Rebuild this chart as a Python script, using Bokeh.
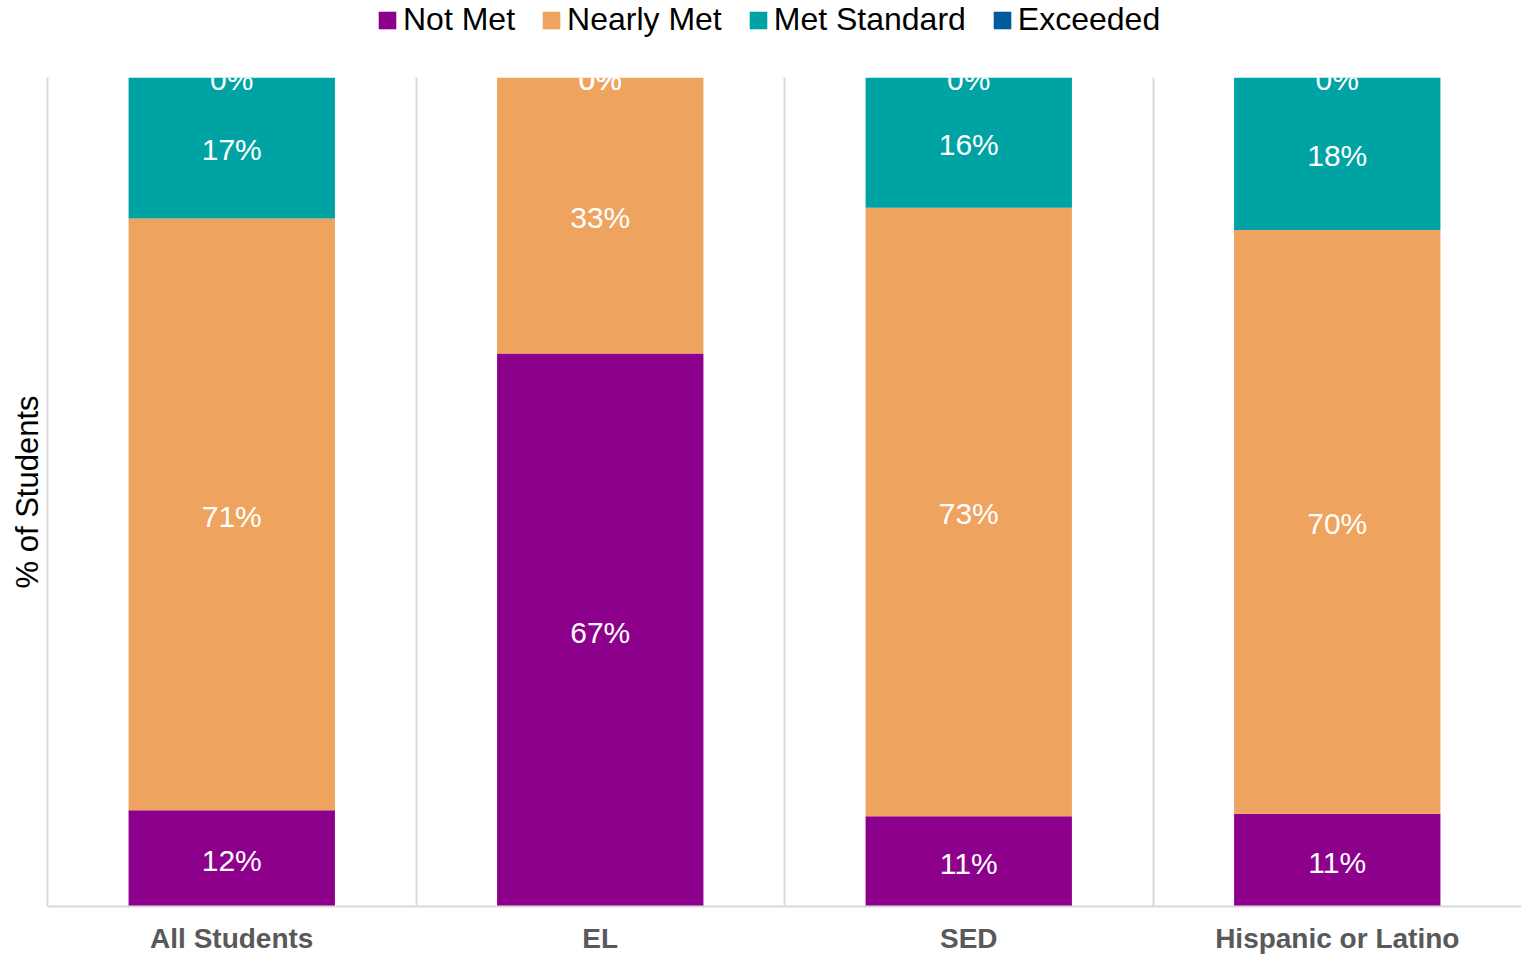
from bokeh.plotting import figure
from bokeh.layouts import column
from bokeh.models import FixedTicker, Legend, LegendItem, ColumnDataSource, Range1d
from bokeh.core.properties import value
from bokeh.embed import file_html
from bokeh.resources import INLINE

categories = ["All Students", "EL", "SED", "Hispanic or Latino"]
series_names = ["Not Met", "Nearly Met", "Met Standard", "Exceeded"]
not_met = [11.6, 66.7, 10.9, 11.2]
nearly_met = [71.4, 33.3, 73.4, 70.4]
met_standard = [17.0, 0.0, 15.7, 18.4]
exceeded = [0.0, 0.0, 0.0, 0.0]
colors = ["#8C008C", "#EEA35E", "#00A3A3", "#005A9C"]

FONT = "Liberation Sans"
series = [not_met, nearly_met, met_standard, exceeded]
xs = [i + 0.5 for i in range(len(categories))]

# ---- legend strip (separate figure above the chart; its range hides the bars) ----
leg = figure(width=1521, height=77, x_range=Range1d(0, 4), y_range=Range1d(200, 201),
             output_backend="svg", toolbar_location=None, min_border=0,
             x_axis_location=None, y_axis_location=None)
leg.outline_line_color = None
leg.xgrid.visible = False
leg.ygrid.visible = False
leg_items = []
for name, vals, col in zip(series_names, series, colors):
    r = leg.vbar(x=xs, top=vals, width=0.56, fill_color=col, line_color=None)
    leg_items.append(LegendItem(label=name, renderers=[r]))
legend = Legend(items=leg_items, orientation="horizontal", location=(329, 39),
                label_text_font=FONT, label_text_font_size="32px", label_text_color="black",
                glyph_width=22, glyph_height=22, spacing=25, label_standoff=5,
                padding=0, margin=0, border_line_color=None, background_fill_alpha=0)
leg.add_layout(legend)

# ---- main chart ----
p = figure(width=1521, height=880, x_range=Range1d(0, 4), y_range=Range1d(0, 100),
           output_backend="svg", toolbar_location=None,
           min_border_left=47, min_border_right=0, min_border_top=0, min_border_bottom=51)
p.outline_line_color = None

bottoms = [0.0] * len(categories)
lx, ly, lt = [], [], []
for name, vals, col in zip(series_names, series, colors):
    tops = [b + v for b, v in zip(bottoms, vals)]
    src = ColumnDataSource(dict(x=xs, bottom=bottoms, top=tops))
    p.vbar(x="x", bottom="bottom", top="top", width=0.56, source=src,
           fill_color=col, line_color=None)
    for x, b, t, v in zip(xs, bottoms, tops, vals):
        lx.append(x)
        ly.append((b + t) / 2)
        lt.append(f"{int(v + 0.5)}%")
    bottoms = tops

p.text(x=lx, y=ly, text=lt, text_color="white", text_align="center",
       text_baseline="middle", text_font=value(FONT), text_font_size="30px", y_offset=2)

p.xaxis.ticker = FixedTicker(ticks=xs)
p.xaxis.major_label_overrides = {x: c for x, c in zip(xs, categories)}
p.xaxis.major_label_text_font = FONT
p.xaxis.major_label_text_font_style = "bold"
p.xaxis.major_label_text_font_size = "28px"
p.xaxis.major_label_text_color = "#595959"
p.xaxis.major_label_standoff = 10
p.xaxis.major_tick_line_color = None
p.xaxis.minor_tick_line_color = None
p.xaxis.axis_line_color = "#d9d9d9"
p.xaxis.axis_line_width = 2

p.yaxis.ticker = FixedTicker(ticks=[])
p.yaxis.major_label_text_font_size = "0px"
p.yaxis.major_tick_line_color = None
p.yaxis.minor_tick_line_color = None
p.yaxis.axis_line_color = "#d9d9d9"
p.yaxis.axis_line_width = 2
p.yaxis.axis_label = "% of Students"
p.yaxis.axis_label_text_font = FONT
p.yaxis.axis_label_text_font_style = "normal"
p.yaxis.axis_label_text_font_size = "31px"
p.yaxis.axis_label_text_color = "black"
p.yaxis.axis_label_standoff = 3

p.xgrid.ticker = FixedTicker(ticks=[1, 2, 3])
p.xgrid.grid_line_color = "#d9d9d9"
p.xgrid.grid_line_width = 2
p.ygrid.visible = False

layout = column(leg, p, spacing=0)
open("out.html", "w").write(file_html(layout, INLINE))
